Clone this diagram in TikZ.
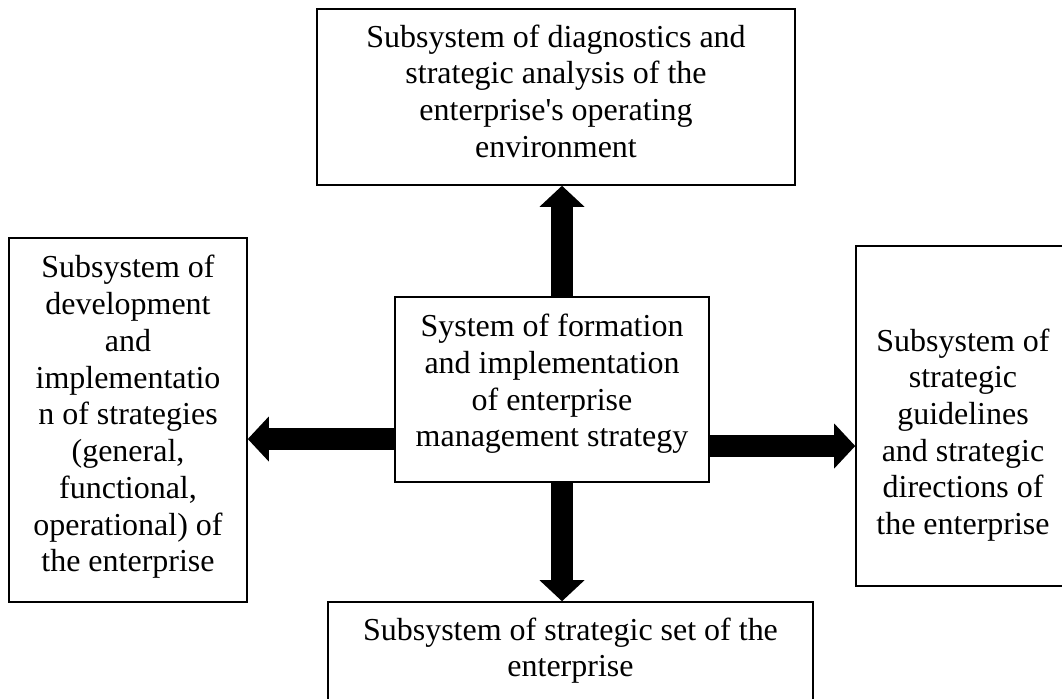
\documentclass[tikz,border=0pt]{standalone}
\usepackage{fontspec}
\setmainfont{Liberation Serif}[Ligatures=TeXOff]
\usetikzlibrary{arrows.meta}

\tikzset{
  box/.style={draw, line width=0.9pt, inner sep=0pt},
  txt/.style={align=center, inner sep=0pt, font=\fontsize{18.2}{20.9}\selectfont},
  fat/.style={line width=4.4mm, -{Triangle[length=4.2mm, width=9mm, line width=0pt]}}
}

\begin{document}
\begin{tikzpicture}
        \clip (0, 0) rectangle (21.24, -13.96);

        % boxes
        \node[box, minimum width=9.56cm, minimum height=3.52cm] (diag) at (11.12, -1.94) {};
        \node[box, minimum width=4.76cm, minimum height=7.28cm] (devel) at (2.56, -8.40) {};
        \node[box, minimum width=6.28cm, minimum height=3.70cm] (core) at (11.04, -7.79) {};
        \node[box, minimum width=4.28cm, minimum height=6.80cm] (guide) at (19.26, -8.32) {};
        \node[box, minimum width=9.70cm, minimum height=2.56cm] (set) at (11.41, -13.32) {};

        % texts
        \node[txt] (diag-t) at ([yshift=1.2mm]diag.center) {Subsystem of diagnostics and\\strategic analysis of the\\enterprise's operating\\environment};
        \node[txt] (devel-t) at ([yshift=0.6mm]devel.center) {Subsystem of\\development\\and\\implementatio\\n of strategies\\(general,\\functional,\\operational) of\\the enterprise};
        \node[txt] (core-t) at ([yshift=1.1mm]core.center) {System of formation\\and implementation\\of enterprise\\management strategy};
        \node[txt] (guide-t) at ([yshift=-3.8mm]guide.center) {Subsystem of\\strategic\\guidelines\\and strategic\\directions of\\the enterprise};
        \node[txt] (set-t) at ([yshift=-9.9mm]set.north) {Subsystem of strategic set of the\\enterprise};

        % block arrows
        \draw[fat] ([xshift=2mm]core.north) -- ([xshift=2mm]core.north |- diag.south);
        \draw[fat] ([xshift=2mm]core.south) -- ([xshift=2mm]core.south |- set.north);
        \draw[fat] ([yshift=-9.9mm]core.west) -- ([yshift=-9.9mm]core.west -| devel.east);
        \draw[fat] ([yshift=-11.3mm]core.east) -- ([yshift=-11.3mm]core.east -| guide.west);
    \end{tikzpicture}
\end{document}
